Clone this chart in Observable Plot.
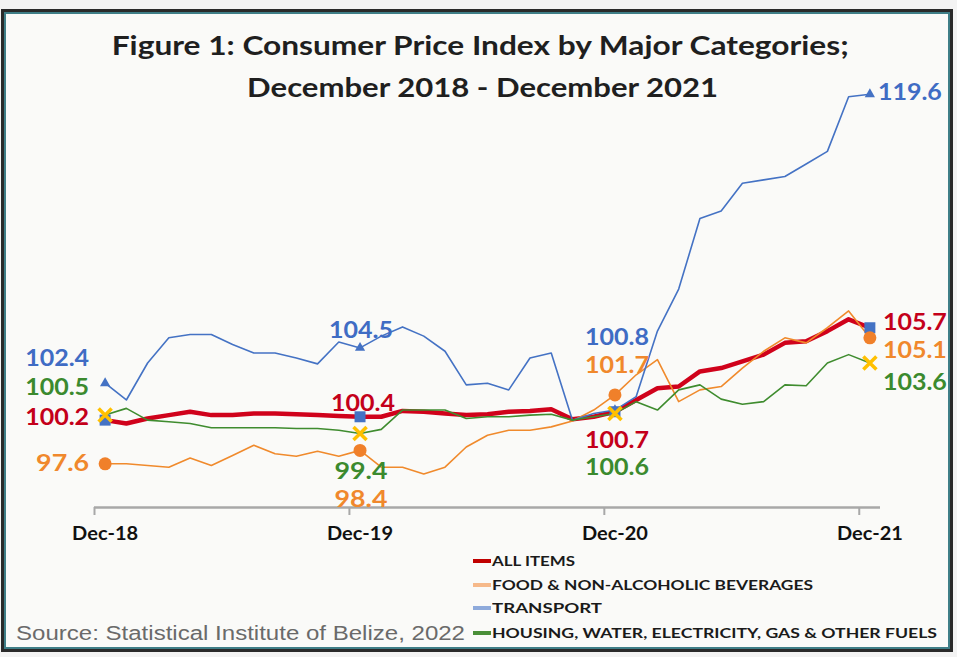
<!DOCTYPE html>
<html><head><meta charset="utf-8">
<script src="https://cdn.jsdelivr.net/npm/d3@7"></script>
<script src="https://cdn.jsdelivr.net/npm/@observablehq/plot@0.6"></script>
<style>
html,body{margin:0;padding:0;background:#f3f3f3;}
#wrap{position:relative;width:957px;height:657px;overflow:hidden;background:#f3f3f3;}
#frame{position:absolute;left:1px;top:9px;width:952px;height:643px;box-sizing:border-box;border:3px solid #2a2a2a;background:#fafaf8;box-shadow:inset 0 0 0 2px #3f7e87;}
#chart{position:absolute;left:0;top:0;}
.tline{position:absolute;white-space:nowrap;text-align:center;font-family:Lato,"Open Sans",sans-serif;font-weight:700;font-size:27px;line-height:32px;color:#1f1f1f;}
.tline span{display:inline-block;transform-origin:center center;}
#source{position:absolute;left:16px;top:620px;line-height:26px;font-family:"Liberation Sans",Arial,sans-serif;font-size:20px;color:#6a6a6a;white-space:nowrap;}
#source span{display:inline-block;transform-origin:left center;}
#legend{position:absolute;left:473px;top:0;}
.lg{position:absolute;left:0;white-space:nowrap;height:20px;line-height:20px;font-family:Lato,sans-serif;font-weight:700;font-size:14px;color:#1a1a1a;}
.lg i{position:absolute;left:0;top:8px;width:18px;height:4px;}
.lg span{position:absolute;left:19px;top:0;display:inline-block;transform-origin:left center;}
</style></head>
<body>
<div id="wrap">
  <div id="frame"></div>
  <div class="tline" style="left:0;width:961px;top:29px;"><span id="t1">Figure 1: Consumer Price Index by Major Categories;</span></div>
  <div class="tline" style="left:0;width:965px;top:71px;"><span id="t2">December 2018 - December 2021</span></div>
  <div id="chart"></div>
  <div id="legend"></div>
  <div id="source"><span id="src">Source: Statistical Institute of Belize, 2022</span></div>
</div>
<script>
// ---- data ----
const months = ["Dec-18","Jan-19","Feb-19","Mar-19","Apr-19","May-19","Jun-19","Jul-19","Aug-19","Sep-19","Oct-19","Nov-19",
  "Dec-19","Jan-20","Feb-20","Mar-20","Apr-20","May-20","Jun-20","Jul-20","Aug-20","Sep-20","Oct-20","Nov-20",
  "Dec-20","Jan-21","Feb-21","Mar-21","Apr-21","May-21","Jun-21","Jul-21","Aug-21","Sep-21","Oct-21","Nov-21","Dec-21"];
const tickLabels = ["Dec-18","Dec-19","Dec-20","Dec-21"];
const seriesNames = ["ALL ITEMS","FOOD & NON-ALCOHOLIC BEVERAGES","TRANSPORT","HOUSING, WATER, ELECTRICITY, GAS & OTHER FUELS"];
const allItems = [100.2,100.0,100.3,100.5,100.7,100.5,100.5,100.6,100.6,100.55,100.5,100.45,
  100.4,100.4,100.75,100.7,100.6,100.5,100.55,100.7,100.75,100.85,100.25,100.4,
  100.7,101.4,102.1,102.2,103.1,103.3,103.7,104.1,104.8,104.9,105.5,106.2,105.7];
const food = [97.6,97.6,97.5,97.4,97.95,97.5,98.1,98.7,98.2,98.05,98.35,98.05,
  98.4,97.4,97.4,97.0,97.4,98.6,99.3,99.6,99.6,99.8,100.15,100.8,
  101.7,102.9,103.8,101.3,102.0,102.2,103.3,104.3,105.1,104.8,105.7,106.7,105.1];
const transport = [102.4,101.4,103.6,105.1,105.3,105.3,104.7,104.2,104.2,103.9,103.55,104.85,
  104.5,105.2,105.75,105.2,104.3,102.3,102.4,102.0,103.9,104.2,100.2,100.6,
  100.8,101.6,105.5,108.0,112.2,112.65,114.3,114.5,114.7,115.45,116.2,119.45,119.6];
const housing = [100.5,100.9,100.2,100.1,100.0,99.75,99.75,99.75,99.75,99.7,99.7,99.6,
  99.4,99.65,100.8,100.8,100.8,100.3,100.4,100.4,100.5,100.55,100.2,100.4,
  100.6,101.3,100.8,102.0,102.3,101.45,101.15,101.3,102.3,102.25,103.6,104.1,103.6];

// ---- styles ----
const series = [
  {name: seriesNames[0], values: allItems, line: "#d0021b", width: 4.5, label: "#c4001a", swatch: "#c00000",
   sym: {symbol: "square", fill: "#4472c4", r: 6.2},
   offs: [[-16,-2,"end"],[3,-13,"middle"],[2,29,"middle"],[13,-5,"start"]]},
  {name: seriesNames[1], values: food, line: "#f08a2c", width: 1.6, label: "#f0882c", swatch: "#f6b98a",
   sym: {symbol: "circle", fill: "#f0802a", r: 6.5},
   offs: [[-16,0,"end"],[1,50,"middle"],[2,-29,"middle"],[13,13,"start"]]},
  {name: seriesNames[2], values: transport, line: "#4472c4", width: 1.6, label: "#3f6cc4", swatch: "#8eaadb",
   sym: {symbol: "triangle", fill: "#4472c4", r: 3.8},
   offs: [[-16,-24,"end"],[1,-17,"middle"],[2,-72,"middle"],[8,-1,"start"]]},
  {name: seriesNames[3], values: housing, line: "#3f8c2f", width: 1.6, label: "#3b8a2e", swatch: "#4a8f38",
   sym: {symbol: "times", stroke: "#ffc000", strokeWidth: 3.5, r: 6},
   offs: [[-16,-27,"end"],[1,38,"middle"],[2,55,"middle"],[13,20,"start"]]}
];
const drawOrder = [0,1,2,3];
const rowsOf = s => s.values.map((v, i) => ({i, v, month: months[i]}));
const markedRowsOf = s => rowsOf(s).filter(d => tickLabels.includes(d.month));
const tickIdx = tickLabels.map(t => months.indexOf(t));
const boundaryTicks = tickIdx.map(i => i - 0.5);

const marks = [
  Plot.ruleY([95], {stroke: "#a8a8a8", strokeWidth: 2.5}),
  Plot.axisX({ticks: boundaryTicks, tickSize: 8, tickFormat: () => "", label: null, stroke: "#a8a8a8", strokeWidth: 2}),
  Plot.axisX({ticks: tickIdx, tickSize: 0, tickPadding: 20, label: null, tickFormat: i => months[i], fontSize: 18, fontWeight: "bold", fill: "#111"})
];
drawOrder.forEach(k => {
  const s = series[k];
  marks.push(Plot.line(rowsOf(s), {x: "i", y: "v", stroke: s.line, strokeWidth: s.width, strokeLinejoin: "round"}));
});
drawOrder.forEach(k => {
  const s = series[k];
  marks.push(Plot.dot(markedRowsOf(s), {x: "i", y: "v", ...s.sym}));
});
series.forEach(s => {
  markedRowsOf(s).forEach((d, j) => {
    const [dx, dy, anchor] = s.offs[j];
    marks.push(Plot.text([d], {x: "i", y: "v", text: r => r.v.toFixed(1), fill: s.label, dx, dy, textAnchor: anchor,
      fontSize: 22, fontWeight: "bold"}));
  });
});

const svg = Plot.plot({
  width: 957, height: 560,
  marginLeft: 94, marginRight: 77, marginTop: 87, marginBottom: 53,
  x: {domain: [-0.5, 36.5], axis: null, label: null},
  y: {domain: [95, 120], axis: null, label: null},
  style: {background: "transparent", fontFamily: "Lato, 'Open Sans', sans-serif", overflow: "visible"},
  marks
});
document.getElementById("chart").appendChild(svg);

// stretch text widths like the (horizontally stretched) source picture
d3.select(svg).selectAll("text").each(function() {
  const t = this.textContent.trim();
  if (!t) return;
  let w = null;
  if (/^Dec-/.test(t)) w = 66;
  else if (/^\d+\.\d$/.test(t)) w = t.length === 5 ? 64 : 53;
  if (w) { this.setAttribute("textLength", w); this.setAttribute("lengthAdjust", "spacingAndGlyphs"); }
});

// legend
const legendY = [561, 585, 608, 633];
const legendW = [83, 321, 110, 445];
const leg = document.getElementById("legend");
series.forEach((s, k) => {
  const row = document.createElement("div");
  row.className = "lg";
  row.style.top = (legendY[k] - 10) + "px";
  row.innerHTML = `<i style="background:${s.swatch}"></i><span>${s.name.replace(/&/g, "&amp;")}</span>`;
  leg.appendChild(row);
  const sp = row.querySelector("span");
  const w = sp.getBoundingClientRect().width;
  sp.style.transform = `scaleX(${legendW[k] / w})`;
});

function fit(id, target) {
  const el = document.getElementById(id);
  const w = el.getBoundingClientRect().width;
  el.style.transform = `scaleX(${target / w})`;
}
fit("t1", 737);
fit("t2", 471);
fit("src", 449);
</script>
</body></html>
